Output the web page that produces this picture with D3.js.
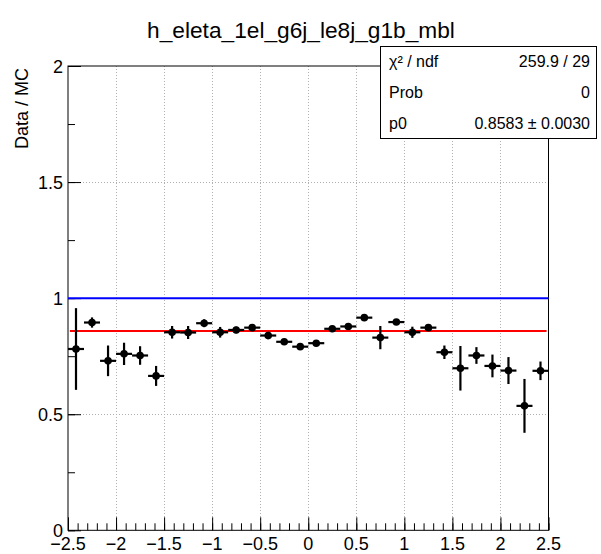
<!DOCTYPE html>
<html>
<head>
<meta charset="utf-8">
<script src="https://cdn.jsdelivr.net/npm/d3@7"></script>
<style>
  html, body { margin: 0; padding: 0; background: #fff; }
  svg { display: block; font-family: "Liberation Sans", Arial, Helvetica, sans-serif; }
</style>
</head>
<body>
<svg id="chart" width="601" height="554"></svg>
<script>
// ---------------- data ----------------
const chartTitle = "h_eleta_1el_g6j_le8j_g1b_mbl";
const yAxisTitle = "Data / MC";
const binCenters = [-2.4167, -2.25, -2.0833, -1.9167, -1.75, -1.5833, -1.4167, -1.25, -1.0833, -0.9167,
                    -0.75, -0.5833, -0.4167, -0.25, -0.0833, 0.0833, 0.25, 0.4167, 0.5833, 0.75,
                    0.9167, 1.0833, 1.25, 1.4167, 1.5833, 1.75, 1.9167, 2.0833, 2.25, 2.4167];
const binHalfWidths = [0.0833, 0.0833, 0.0833, 0.0833, 0.0833, 0.0833, 0.0833, 0.0833, 0.0833, 0.0833,
                       0.0833, 0.0833, 0.0833, 0.0833, 0.0833, 0.0833, 0.0833, 0.0833, 0.0833, 0.0833,
                       0.0833, 0.0833, 0.0833, 0.0833, 0.0833, 0.0833, 0.0833, 0.0833, 0.0833, 0.0833];
const ratioValues = [0.781, 0.895, 0.730, 0.760, 0.753, 0.665, 0.853, 0.852, 0.892, 0.853,
                     0.863, 0.873, 0.839, 0.812, 0.791, 0.806, 0.868, 0.878, 0.916, 0.830,
                     0.897, 0.853, 0.873, 0.767, 0.698, 0.753, 0.708, 0.688, 0.536, 0.687];
const ratioErrors = [0.176, 0.022, 0.066, 0.048, 0.040, 0.043, 0.027, 0.028, 0.017, 0.023,
                     0.014, 0.013, 0.016, 0.012, 0.010, 0.010, 0.012, 0.012, 0.012, 0.050,
                     0.012, 0.024, 0.012, 0.029, 0.096, 0.036, 0.049, 0.058, 0.116, 0.040];
const referenceLevel = 1.0;
const fitLevel = 0.8583;
const fitRange = [-2.48, 2.48];
const xDomain = [-2.5, 2.5];
const yDomain = [0, 2];
const xMajorTicks = [-2.5, -2, -1.5, -1, -0.5, 0, 0.5, 1, 1.5, 2, 2.5];
const xTickLabels = ["\u22122.5", "\u22122", "\u22121.5", "\u22121", "\u22120.5", "0", "0.5", "1", "1.5", "2", "2.5"];
const yMajorTicks = [0, 0.5, 1, 1.5, 2];
const yTickLabels = ["0", "0.5", "1", "1.5", "2"];
const statLabels = ["\u03C7\u00B2 / ndf", "Prob", "p0"];
const statValues = ["259.9 / 29", "0", "0.8583 \u00B1 0.0030"];

// ---------------- layout ----------------
const frame = { left: 68, right: 548.5, top: 66, bottom: 530.3 };
const svg = d3.select("#chart");
const x = d3.scaleLinear().domain(xDomain).range([frame.left, frame.right]);
const y = d3.scaleLinear().domain(yDomain).range([frame.bottom, frame.top]);

// grid
const grid = svg.append("g").attr("stroke", "#b0b0b0").attr("stroke-width", 1).attr("stroke-dasharray", "1,2");
grid.selectAll("line.gx").data(xMajorTicks.slice(1, -1)).join("line")
  .attr("x1", d => Math.round(x(d)) + 0.5).attr("x2", d => Math.round(x(d)) + 0.5)
  .attr("y1", frame.top).attr("y2", frame.bottom);
grid.selectAll("line.gy").data(yMajorTicks.slice(1, -1)).join("line")
  .attr("y1", d => Math.round(y(d)) + 0.5).attr("y2", d => Math.round(y(d)) + 0.5)
  .attr("x1", frame.left).attr("x2", frame.right);

// axes via d3
const xMinor = d3.range(-2.5, 2.5001, 0.1).map(v => +v.toFixed(2));
const yMinor = d3.range(0, 2.0001, 0.25).map(v => +v.toFixed(2));

const xAxisMinor = d3.axisTop(x).tickValues(xMinor).tickSize(7).tickFormat("");
const xAxisMajor = d3.axisTop(x).tickValues(xMajorTicks).tickSize(13).tickFormat("");
const yAxisMinor = d3.axisRight(y).tickValues(yMinor).tickSize(7).tickFormat("");
const yAxisMajor = d3.axisRight(y).tickValues(yMajorTicks).tickSize(13).tickFormat("");

function styleAxis(g) {
  g.select(".domain").remove();
  g.selectAll(".tick line").attr("stroke", "#000").attr("stroke-width", 1);
}
svg.append("g").attr("transform", `translate(0,${frame.bottom})`).call(xAxisMinor).call(styleAxis);
svg.append("g").attr("transform", `translate(0,${frame.bottom})`).call(xAxisMajor).call(styleAxis);
svg.append("g").attr("transform", `translate(${frame.left},0)`).call(yAxisMinor).call(styleAxis);
svg.append("g").attr("transform", `translate(${frame.left},0)`).call(yAxisMajor).call(styleAxis);

// frame
svg.append("rect")
  .attr("x", frame.left).attr("y", frame.top)
  .attr("width", frame.right - frame.left).attr("height", frame.bottom - frame.top)
  .attr("fill", "none").attr("stroke", "#000").attr("stroke-width", 1);

// tick labels
svg.append("g").selectAll("text").data(xMajorTicks).join("text")
  .attr("x", d => x(d)).attr("y", 550)
  .attr("text-anchor", "middle").attr("font-size", 18)
  .text((d, i) => xTickLabels[i]);
svg.append("g").selectAll("text").data(yMajorTicks).join("text")
  .attr("x", 63).attr("y", d => y(d) + 6.5)
  .attr("text-anchor", "end").attr("font-size", 18)
  .text((d, i) => yTickLabels[i]);

// axis title
svg.append("text")
  .attr("transform", `translate(28,${frame.top + 2}) rotate(-90)`)
  .attr("text-anchor", "end").attr("font-size", 18)
  .text(yAxisTitle);

// reference and fit lines
svg.append("line")
  .attr("x1", x(xDomain[0])).attr("x2", x(xDomain[1]))
  .attr("y1", y(referenceLevel)).attr("y2", y(referenceLevel))
  .attr("stroke", "#0000ff").attr("stroke-width", 2);
svg.append("line")
  .attr("x1", x(fitRange[0])).attr("x2", x(fitRange[1]))
  .attr("y1", y(fitLevel)).attr("y2", y(fitLevel))
  .attr("stroke", "#ff0000").attr("stroke-width", 2);

// data points
const pts = svg.append("g");
binCenters.forEach((c, i) => {
  const v = ratioValues[i], e = ratioErrors[i], hw = binHalfWidths[i];
  pts.append("line")
    .attr("x1", x(c - hw)).attr("x2", x(c + hw))
    .attr("y1", y(v)).attr("y2", y(v))
    .attr("stroke", "#000").attr("stroke-width", 2.2);
  pts.append("line")
    .attr("x1", x(c)).attr("x2", x(c))
    .attr("y1", y(v - e)).attr("y2", y(v + e))
    .attr("stroke", "#000").attr("stroke-width", 2.2);
  pts.append("circle")
    .attr("cx", x(c)).attr("cy", y(v)).attr("r", 3.8)
    .attr("fill", "#000");
});

// title
svg.append("text")
  .attr("x", 301).attr("y", 38)
  .attr("text-anchor", "middle").attr("font-size", 22.7)
  .text(chartTitle);

// stats box
const box = { x: 380, y: 46, w: 216, h: 92 };
svg.append("rect")
  .attr("x", box.x + 0.5).attr("y", box.y + 0.5).attr("width", box.w).attr("height", box.h)
  .attr("fill", "#fff").attr("stroke", "#000").attr("stroke-width", 1);
const rowY = [67, 98, 129];
statLabels.forEach((t, i) => {
  svg.append("text").attr("x", box.x + 9).attr("y", rowY[i])
    .attr("font-size", 16).text(t);
  svg.append("text").attr("x", box.x + box.w - 6).attr("y", rowY[i])
    .attr("font-size", 16).attr("text-anchor", "end").text(statValues[i]);
});
</script>
</body>
</html>
